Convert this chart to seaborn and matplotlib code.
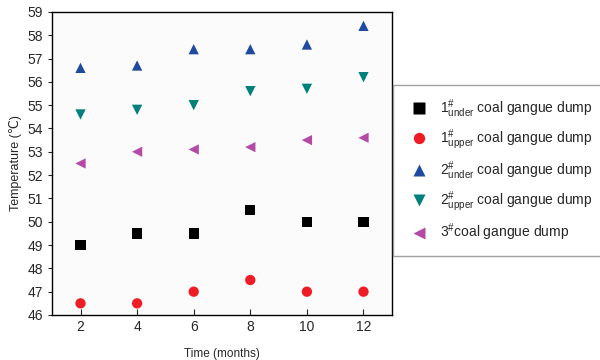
import numpy as np
import pandas as pd
import seaborn as sns
import matplotlib.pyplot as plt

months = [2, 4, 6, 8, 10, 12]
under_1 = [49.0, 49.5, 49.5, 50.5, 50.0, 50.0]
upper_1 = [46.5, 46.5, 47.0, 47.5, 47.0, 47.0]
under_2 = [56.6, 56.7, 57.4, 57.4, 57.6, 58.4]
upper_2 = [54.6, 54.8, 55.0, 55.6, 55.7, 56.2]
dump_3 = [52.5, 53.0, 53.1, 53.2, 53.5, 53.6]

names = [r'$1^{\#}_{\rm under}$ coal gangue dump',
         r'$1^{\#}_{\rm upper}$ coal gangue dump',
         r'$2^{\#}_{\rm under}$ coal gangue dump',
         r'$2^{\#}_{\rm upper}$ coal gangue dump',
         r'$3^{\#}$coal gangue dump']
series = [under_1, upper_1, under_2, upper_2, dump_3]
colors = ['black', '#ee1c25', '#1f4aa0', '#00807a', '#b44aa6']
marks = ['s', 'o', '^', 'v', '<']

df = pd.DataFrame({
    'month': np.tile(months, len(series)),
    'temp': np.concatenate(series),
    'site': np.repeat(names, len(months)),
})

sns.set_style('ticks')
plt.rcParams['font.family'] = ['Liberation Sans', 'DejaVu Sans']
plt.rcParams['mathtext.fontset'] = 'custom'
plt.rcParams['mathtext.rm'] = 'Liberation Sans'
plt.rcParams['mathtext.it'] = 'Liberation Sans'

fig = plt.figure(figsize=(6, 3.6), dpi=100)
ax = fig.add_axes([0.087, 0.125, 0.566, 0.842])
ax.set_facecolor('#fbfbfb')
sns.scatterplot(data=df, x='month', y='temp', hue='site', style='site',
                palette=dict(zip(names, colors)), markers=dict(zip(names, marks)),
                s=55, edgecolor='none', ax=ax)

ax.set_xlim(1, 13)
ax.set_ylim(46, 59)
ax.set_xticks(months)
ax.set_yticks(range(46, 60))
ax.tick_params(axis='x', direction='in', length=4, labelsize=10)
ax.tick_params(axis='y', direction='out', length=3, labelsize=10)
for sp in ax.spines.values():
    sp.set_visible(True)
    sp.set_color('black')
    sp.set_linewidth(1)
ax.set_xlabel('Time (months)', fontsize=8.5, labelpad=10)
ax.set_ylabel('Temperature (\u2103)', fontsize=9, labelpad=4)

ax.legend_.remove()
h, l = ax.get_legend_handles_labels()
leg = fig.legend(h, l, loc='upper left', bbox_to_anchor=(0.655, 0.765),
                 fontsize=10, frameon=True, fancybox=False, labelspacing=0.55,
                 handletextpad=0.5, borderpad=0.9, borderaxespad=0,
                 markerscale=1.1)
leg.get_frame().set_edgecolor('#888888')
leg.get_frame().set_linewidth(1)

fig.savefig('out.png', dpi=100)
